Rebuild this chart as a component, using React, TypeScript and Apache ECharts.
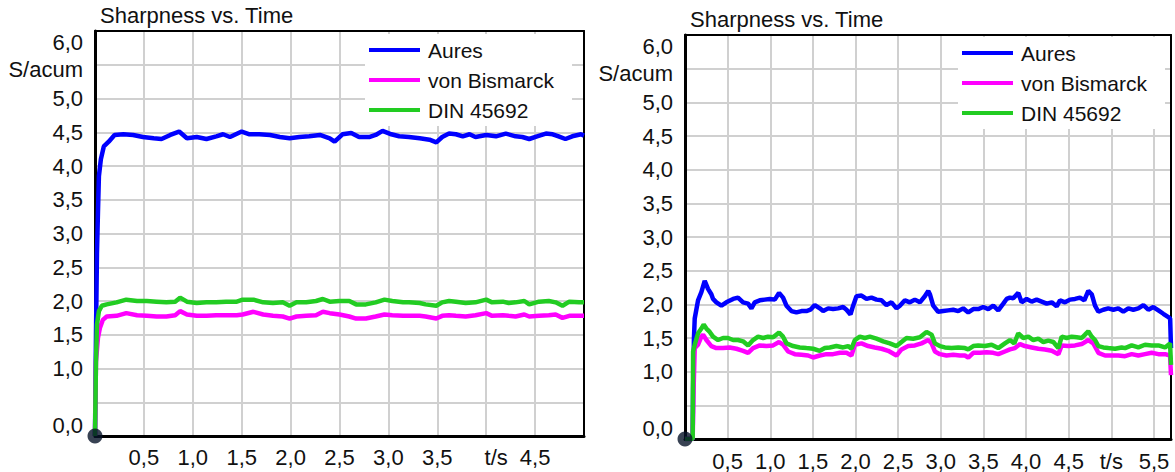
import React, { useEffect, useRef } from "react";
import * as echarts from "echarts";

// ---------- data ----------
const seriesNames = ["Aures", "von Bismarck", "DIN 45692"];
const seriesColors = ["#0000ff", "#ff00ff", "#22cc22"];
const titleText = "Sharpness vs. Time";

const yTickLabels = ["0,0", "", "1,0", "1,5", "2,0", "2,5", "3,0", "3,5", "4,0", "4,5", "5,0", "S/acum", "6,0"];
const leftXTickLabels = ["", "0,5", "1,0", "1,5", "2,0", "2,5", "3,0", "3,5", "t/s", "4,5", ""];
const rightXTickLabels = ["", "0,5", "1,0", "1,5", "2,0", "2,5", "3,0", "3,5", "4,0", "4,5", "t/s", "5,5"];

const leftXMax = 5.0;
const rightXMax = 5.7;
const yMax = 6.0;

const leftAures = [
  [0, 0], [0.01, 1.5], [0.02, 2.7], [0.03, 3.3], [0.04, 3.85], [0.06, 4.1], [0.09, 4.29], [0.14, 4.36],
  [0.2, 4.46], [0.29, 4.47], [0.39, 4.46], [0.49, 4.43], [0.6, 4.41], [0.68, 4.4], [0.77, 4.46], [0.86, 4.51],
  [0.94, 4.41], [1.04, 4.43], [1.14, 4.4], [1.24, 4.44], [1.31, 4.47], [1.38, 4.43], [1.5, 4.51], [1.58, 4.47],
  [1.68, 4.47], [1.79, 4.46], [1.89, 4.43], [1.99, 4.41], [2.09, 4.43], [2.19, 4.44], [2.3, 4.46], [2.4, 4.41],
  [2.45, 4.36], [2.53, 4.47], [2.62, 4.49], [2.7, 4.43], [2.81, 4.43], [2.87, 4.46], [2.94, 4.52], [3.03, 4.47],
  [3.11, 4.44], [3.21, 4.43], [3.32, 4.41], [3.42, 4.39], [3.49, 4.35], [3.55, 4.43], [3.62, 4.48], [3.69, 4.47],
  [3.76, 4.44], [3.83, 4.47], [3.89, 4.43], [4.0, 4.46], [4.1, 4.44], [4.2, 4.48], [4.3, 4.44], [4.37, 4.43],
  [4.44, 4.4], [4.52, 4.44], [4.61, 4.48], [4.68, 4.47], [4.74, 4.44], [4.81, 4.4], [4.88, 4.44], [4.97, 4.47],
  [5.0, 4.45],
];

const leftBismarck = [
  [0, 0], [0.01, 1.1], [0.03, 1.45], [0.05, 1.6], [0.08, 1.72], [0.12, 1.77], [0.22, 1.78], [0.32, 1.82],
  [0.43, 1.79], [0.53, 1.78], [0.63, 1.77], [0.73, 1.77], [0.82, 1.79], [0.87, 1.85], [0.94, 1.8], [1.04, 1.78],
  [1.14, 1.78], [1.24, 1.79], [1.34, 1.79], [1.45, 1.79], [1.51, 1.8], [1.62, 1.84], [1.72, 1.8], [1.82, 1.78],
  [1.92, 1.77], [1.99, 1.74], [2.06, 1.77], [2.16, 1.78], [2.26, 1.79], [2.33, 1.84], [2.4, 1.82], [2.5, 1.8],
  [2.6, 1.77], [2.67, 1.74], [2.77, 1.74], [2.87, 1.77], [2.96, 1.8], [3.04, 1.79], [3.15, 1.78], [3.21, 1.78],
  [3.32, 1.78], [3.38, 1.77], [3.49, 1.74], [3.55, 1.78], [3.62, 1.79], [3.69, 1.78], [3.79, 1.77], [3.89, 1.79],
  [4.0, 1.82], [4.06, 1.78], [4.17, 1.79], [4.23, 1.78], [4.3, 1.77], [4.39, 1.8], [4.44, 1.77], [4.54, 1.78],
  [4.64, 1.79], [4.71, 1.8], [4.78, 1.75], [4.85, 1.78], [4.95, 1.78], [5.0, 1.78],
];

const leftDin = [
  [0, 0], [0.01, 1.1], [0.02, 1.65], [0.04, 1.85], [0.07, 1.93], [0.12, 1.95], [0.22, 1.98], [0.32, 2.02],
  [0.43, 2.0], [0.53, 2.0], [0.63, 1.99], [0.73, 1.98], [0.82, 1.99], [0.87, 2.05], [0.94, 1.99], [1.04, 1.97],
  [1.14, 1.98], [1.24, 1.98], [1.34, 1.99], [1.45, 1.99], [1.51, 2.02], [1.62, 2.02], [1.72, 1.98], [1.82, 1.97],
  [1.92, 1.98], [1.99, 1.93], [2.06, 1.98], [2.16, 1.98], [2.26, 2.0], [2.33, 2.03], [2.4, 1.99], [2.5, 2.0],
  [2.6, 2.0], [2.67, 1.95], [2.77, 1.95], [2.87, 1.98], [2.96, 2.02], [3.04, 2.0], [3.15, 1.98], [3.21, 1.98],
  [3.32, 1.97], [3.38, 1.95], [3.49, 1.93], [3.55, 1.98], [3.62, 2.0], [3.69, 1.99], [3.79, 1.97], [3.89, 1.98],
  [4.0, 2.02], [4.06, 1.98], [4.17, 1.99], [4.23, 1.97], [4.3, 1.98], [4.39, 2.0], [4.44, 1.95], [4.54, 1.99],
  [4.64, 2.0], [4.71, 1.98], [4.78, 1.93], [4.85, 1.99], [4.95, 1.98], [5.0, 1.98],
];

const rightAures = [
  [0, 0], [0.09, 0], [0.095, 0.75], [0.105, 1.5], [0.114, 1.79], [0.153, 2.06], [0.192, 2.18], [0.231, 2.35],
  [0.27, 2.23], [0.309, 2.15], [0.329, 2.08], [0.368, 2.03], [0.427, 1.98], [0.485, 2.03], [0.564, 2.08],
  [0.622, 2.1], [0.681, 2.03], [0.74, 2.01], [0.779, 1.94], [0.818, 2.03], [0.877, 2.06], [0.935, 2.07],
  [0.994, 2.08], [1.053, 2.07], [1.103, 2.17], [1.15, 2.1], [1.19, 1.98], [1.248, 1.9], [1.307, 1.88],
  [1.366, 1.9], [1.424, 1.9], [1.471, 1.92], [1.522, 1.99], [1.581, 1.94], [1.62, 1.9], [1.679, 1.94],
  [1.737, 1.93], [1.796, 1.94], [1.855, 1.96], [1.894, 1.92], [1.941, 1.85], [1.972, 1.98], [2.011, 2.12],
  [2.07, 2.13], [2.129, 2.08], [2.187, 2.1], [2.246, 2.07], [2.305, 2.06], [2.363, 1.99], [2.422, 2.03],
  [2.481, 1.94], [2.52, 1.98], [2.579, 2.06], [2.637, 2.03], [2.696, 2.07], [2.755, 2.03], [2.813, 2.12],
  [2.853, 2.2], [2.872, 2.15], [2.911, 1.98], [2.969, 1.89], [3.028, 1.9], [3.087, 1.91], [3.146, 1.92],
  [3.205, 1.9], [3.263, 1.94], [3.322, 1.88], [3.381, 1.93], [3.439, 1.93], [3.498, 1.96], [3.557, 1.93],
  [3.615, 1.98], [3.674, 1.91], [3.733, 2.01], [3.772, 2.08], [3.811, 2.1], [3.85, 2.09], [3.909, 2.17],
  [3.948, 2.03], [4.007, 2.08], [4.066, 2.04], [4.124, 2.07], [4.183, 2.04], [4.242, 2.01], [4.301, 2.03],
  [4.359, 1.97], [4.398, 2.06], [4.457, 2.03], [4.515, 2.07], [4.574, 2.08], [4.633, 2.1], [4.683, 2.06],
  [4.73, 2.2], [4.77, 2.15], [4.809, 1.98], [4.848, 1.89], [4.906, 1.92], [4.965, 1.94], [5.024, 1.92],
  [5.082, 1.94], [5.141, 1.89], [5.2, 1.94], [5.258, 1.92], [5.317, 1.94], [5.376, 1.99], [5.434, 1.92],
  [5.493, 1.96], [5.552, 1.91], [5.61, 1.86], [5.669, 1.81], [5.69, 1.79], [5.7, 1.35],
];

const rightBismarck = [
  [0, 0], [0.09, 0], [0.1, 0.7], [0.114, 1.35], [0.153, 1.4], [0.192, 1.52], [0.212, 1.55], [0.251, 1.47],
  [0.309, 1.38], [0.368, 1.35], [0.446, 1.35], [0.524, 1.36], [0.603, 1.34], [0.681, 1.31], [0.74, 1.28],
  [0.798, 1.35], [0.877, 1.39], [0.955, 1.38], [1.033, 1.39], [1.103, 1.44], [1.15, 1.4], [1.209, 1.3],
  [1.288, 1.26], [1.366, 1.25], [1.444, 1.24], [1.503, 1.21], [1.581, 1.24], [1.659, 1.26], [1.737, 1.26],
  [1.816, 1.28], [1.894, 1.28], [1.952, 1.24], [1.992, 1.4], [2.07, 1.42], [2.148, 1.38], [2.226, 1.36],
  [2.305, 1.34], [2.383, 1.31], [2.481, 1.24], [2.539, 1.33], [2.618, 1.38], [2.696, 1.39], [2.774, 1.42],
  [2.853, 1.47], [2.892, 1.42], [2.931, 1.3], [2.989, 1.26], [3.067, 1.24], [3.146, 1.25], [3.224, 1.24],
  [3.283, 1.24], [3.322, 1.21], [3.381, 1.28], [3.459, 1.28], [3.537, 1.29], [3.615, 1.28], [3.674, 1.26],
  [3.752, 1.3], [3.811, 1.33], [3.87, 1.35], [3.929, 1.41], [3.987, 1.38], [4.066, 1.36], [4.144, 1.34],
  [4.222, 1.33], [4.301, 1.31], [4.379, 1.26], [4.418, 1.39], [4.496, 1.38], [4.574, 1.39], [4.653, 1.41],
  [4.73, 1.47], [4.789, 1.42], [4.848, 1.28], [4.926, 1.24], [5.004, 1.24], [5.082, 1.24], [5.161, 1.23],
  [5.239, 1.26], [5.317, 1.24], [5.395, 1.26], [5.473, 1.28], [5.552, 1.26], [5.63, 1.26], [5.689, 1.24],
  [5.7, 0.95],
];

const rightDin = [
  [0, 0], [0.09, 0], [0.095, 1.3], [0.114, 1.4], [0.153, 1.57], [0.192, 1.64], [0.219, 1.7], [0.251, 1.64],
  [0.29, 1.59], [0.329, 1.52], [0.388, 1.47], [0.446, 1.5], [0.505, 1.5], [0.564, 1.47], [0.622, 1.47],
  [0.681, 1.45], [0.74, 1.39], [0.798, 1.47], [0.857, 1.52], [0.916, 1.5], [0.974, 1.52], [1.033, 1.51],
  [1.103, 1.58], [1.15, 1.52], [1.19, 1.42], [1.268, 1.38], [1.346, 1.36], [1.424, 1.35], [1.503, 1.34],
  [1.581, 1.31], [1.64, 1.35], [1.698, 1.36], [1.776, 1.38], [1.855, 1.36], [1.913, 1.38], [1.952, 1.34],
  [1.992, 1.47], [2.05, 1.52], [2.109, 1.5], [2.168, 1.52], [2.246, 1.49], [2.324, 1.45], [2.402, 1.42],
  [2.481, 1.38], [2.539, 1.44], [2.598, 1.5], [2.676, 1.49], [2.755, 1.51], [2.833, 1.59], [2.892, 1.55],
  [2.931, 1.42], [2.989, 1.38], [3.048, 1.36], [3.126, 1.35], [3.205, 1.36], [3.283, 1.35], [3.322, 1.33],
  [3.381, 1.38], [3.439, 1.39], [3.518, 1.38], [3.596, 1.4], [3.674, 1.35], [3.752, 1.42], [3.811, 1.47],
  [3.862, 1.42], [3.909, 1.57], [3.968, 1.5], [4.027, 1.52], [4.085, 1.47], [4.144, 1.49], [4.203, 1.44],
  [4.261, 1.46], [4.32, 1.44], [4.379, 1.35], [4.418, 1.52], [4.477, 1.5], [4.535, 1.52], [4.594, 1.51],
  [4.653, 1.5], [4.692, 1.55], [4.73, 1.6], [4.77, 1.52], [4.809, 1.47], [4.848, 1.38], [4.906, 1.36],
  [4.965, 1.35], [5.043, 1.34], [5.121, 1.36], [5.161, 1.35], [5.239, 1.39], [5.317, 1.36], [5.395, 1.4],
  [5.473, 1.39], [5.552, 1.39], [5.63, 1.36], [5.689, 1.42], [5.7, 1.1],
];

const origin = [[0, 0]];

// ---------- helpers ----------
const FONT = "'Liberation Sans', Arial, Helvetica, sans-serif";
const TEXT = "#111111";
const GRIDLINE = "#d0d0d0";

const pick = (labels: string[], v: number) => {
  const i = Math.round(v / 0.5);
  if (Math.abs(i * 0.5 - v) > 1e-6) return "";
  return labels[i] ?? "";
};

const yFormatter = (v: number) => {
  const s = pick(yTickLabels, v);
  if (!s) return "";
  if (Math.abs(v - yMax) < 1e-6) return `{top|${s}}`;
  if (Math.abs(v) < 1e-6) return `{bot|${s}}`;
  if (s === "S/acum") return `{unit|${s}}`;
  return s;
};

const xFormatter = (labels: string[], shiftTs: boolean) => (v: number) => {
  const s = pick(labels, v);
  if (s === "t/s" && shiftTs) return `{ts|${s}}`;
  return s;
};

const richBase = { fontFamily: FONT, fontSize: 22, color: TEXT };

const buildMainX = (gridIndex: number, max: number, labels: string[], shiftTs: boolean, margin: number) => ({
  type: "value",
  gridIndex,
  min: 0,
  max,
  interval: 0.5,
  position: "bottom",
  axisLine: { show: true, onZero: false, lineStyle: { color: "#000", width: 3 } },
  axisTick: { show: false },
  axisLabel: {
    show: true,
    margin,
    fontFamily: FONT,
    fontSize: 22,
    color: TEXT,
    showMinLabel: true,
    showMaxLabel: true,
    formatter: xFormatter(labels, shiftTs),
    rich: { ts: { ...richBase, padding: [0, 0, 0, 20] } },
  },
  splitLine: { show: true, showMinLine: false, showMaxLine: false, lineStyle: { color: GRIDLINE, width: 2 } },
  z: 3,
});

const buildTopX = (gridIndex: number, max: number) => ({
  type: "value",
  gridIndex,
  min: 0,
  max,
  interval: 0.5,
  position: "top",
  axisLine: { show: true, onZero: false, lineStyle: { color: "#000", width: 2 } },
  axisTick: { show: false },
  axisLabel: { show: false },
  splitLine: { show: false },
  z: 3,
});

const buildMainY = (gridIndex: number) => ({
  type: "value",
  gridIndex,
  min: 0,
  max: yMax,
  interval: 0.5,
  position: "left",
  axisLine: { show: true, onZero: false, lineStyle: { color: "#000", width: 3 } },
  axisTick: { show: false },
  axisLabel: {
    show: true,
    margin: 12,
    fontFamily: FONT,
    fontSize: 22,
    color: TEXT,
    showMinLabel: true,
    showMaxLabel: true,
    formatter: yFormatter,
    rich: {
      top: { ...richBase, padding: [22, 0, 0, 0] },
      bot: { ...richBase, padding: [0, 0, 22, 0] },
      unit: { ...richBase, padding: [10, 0, 0, 0] },
    },
  },
  splitLine: { show: true, showMinLine: false, showMaxLine: false, lineStyle: { color: GRIDLINE, width: 2 } },
  z: 3,
});

const buildRightY = (gridIndex: number) => ({
  type: "value",
  gridIndex,
  min: 0,
  max: yMax,
  interval: 0.5,
  position: "right",
  axisLine: { show: true, onZero: false, lineStyle: { color: "#000", width: 2 } },
  axisTick: { show: false },
  axisLabel: { show: false },
  splitLine: { show: false },
  z: 3,
});

const lineSeries = (name: string, color: string, data: number[][], axisIndex: number) => ({
  type: "line",
  name,
  data,
  xAxisIndex: axisIndex,
  yAxisIndex: axisIndex,
  showSymbol: false,
  symbol: "none",
  lineStyle: { color, width: 4.5 },
  itemStyle: { color },
  emphasis: { disabled: true },
  silent: true,
  clip: true,
  z: 4,
});

const originSeries = (axisIndex: number) => ({
  type: "scatter",
  name: "origin",
  data: origin,
  xAxisIndex: axisIndex,
  yAxisIndex: axisIndex,
  symbolSize: 15,
  itemStyle: { color: "#061328" },
  clip: false,
  silent: true,
  z: 6,
});

const legendBase = {
  data: seriesNames,
  orient: "vertical",
  icon: "rect",
  itemWidth: 51,
  itemHeight: 4,
  itemGap: 6,
  padding: [4, 18, 4, 4],
  backgroundColor: "#ffffff",
  selectedMode: false,
  textStyle: { fontFamily: FONT, fontSize: 21, color: TEXT, lineHeight: 24, padding: [0, 0, 0, 3] },
  z: 5,
};

const titleStyle = { fontFamily: FONT, fontSize: 22, fontWeight: "normal", color: TEXT };

export default function App() {
  const ref = useRef<HTMLDivElement>(null);

  useEffect(() => {
    if (!ref.current) return;
    const chart = echarts.init(ref.current, null, { renderer: "svg" });
    const option = {
      animation: false,
      backgroundColor: "#ffffff",
      title: [
        { text: titleText, left: 100, top: 4, padding: 0, textStyle: titleStyle },
        { text: titleText, left: 690, top: 8, padding: 0, textStyle: titleStyle },
      ],
      legend: [
        { ...legendBase, left: 365, top: 34 },
        { ...legendBase, left: 958, top: 37 },
      ],
      grid: [
        { left: 95, top: 31, width: 489, height: 405, containLabel: false },
        { left: 685, top: 35, width: 486, height: 405, containLabel: false },
      ],
      xAxis: [
        buildMainX(0, leftXMax, leftXTickLabels, true, 10),
        buildMainX(1, rightXMax, rightXTickLabels, false, 11),
        buildTopX(0, leftXMax),
        buildTopX(1, rightXMax),
      ],
      yAxis: [buildMainY(0), buildMainY(1), buildRightY(0), buildRightY(1)],
      series: [
        lineSeries(seriesNames[0], seriesColors[0], leftAures, 0),
        lineSeries(seriesNames[1], seriesColors[1], leftBismarck, 0),
        lineSeries(seriesNames[2], seriesColors[2], leftDin, 0),
        lineSeries(seriesNames[0], seriesColors[0], rightAures, 1),
        lineSeries(seriesNames[1], seriesColors[1], rightBismarck, 1),
        lineSeries(seriesNames[2], seriesColors[2], rightDin, 1),
        originSeries(0),
        originSeries(1),
      ],
    };
    chart.setOption(option as any);
    return () => chart.dispose();
  }, []);

  return (
    <div
      ref={ref}
      style={{ position: "absolute", left: 0, top: 0, width: 1175, height: 472, background: "#fff" }}
    />
  );
}
